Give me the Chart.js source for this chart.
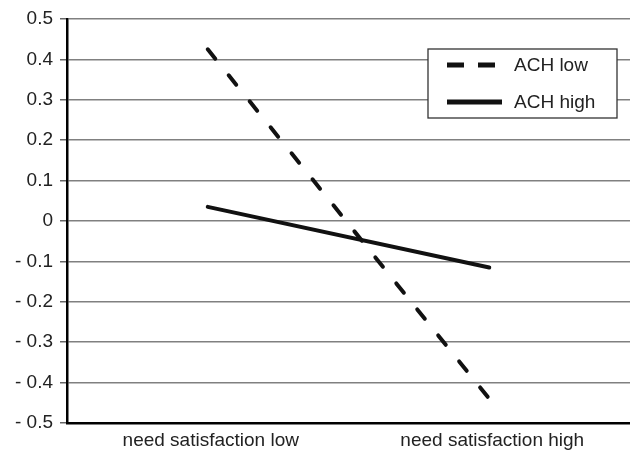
<!DOCTYPE html>
<html>
<head>
<meta charset="utf-8">
<script src="https://cdn.jsdelivr.net/npm/chart.js@4"></script>
<style>
  html, body { margin: 0; padding: 0; background: #fff; }
  #wrap { width: 630px; height: 450px; position: relative; }
</style>
</head>
<body>
<div id="wrap"><canvas id="chart"></canvas></div>
<script>
// data
const categories = ['need satisfaction low', 'need satisfaction high'];
const achLow = [0.425, -0.44];
const achHigh = [0.035, -0.115];
const seriesNames = ['ACH low', 'ACH high'];

const FONT = "Arial, 'Liberation Sans', sans-serif";

// y labels look like "- 0.3"
const fmtTick = (v) => {
  const r = Math.round(v * 10) / 10;
  if (r === 0) return '0';
  return r < 0 ? '- ' + Math.abs(r).toFixed(1) : r.toFixed(1);
};

// boxed legend sitting inside the plot, top right
const boxLegend = {
  id: 'boxLegend',
  afterDraw(chart) {
    const ctx = chart.ctx;
    const x = 428, y = 49, w = 189, h = 69;
    ctx.save();
    ctx.fillStyle = '#fff';
    ctx.fillRect(x, y, w, h);
    ctx.strokeStyle = '#333';
    ctx.lineWidth = 1.3;
    ctx.strokeRect(x, y, w, h);

    chart.data.datasets.forEach((ds, i) => {
      const cy = y + 16 + i * 37;
      ctx.beginPath();
      ctx.strokeStyle = ds.borderColor;
      ctx.lineWidth = 5;
      ctx.lineCap = 'butt';
      ctx.setLineDash(ds.borderDash && ds.borderDash.length ? [17, 14] : []);
      ctx.moveTo(447, cy);
      ctx.lineTo(502, cy);
      ctx.stroke();
      ctx.setLineDash([]);
      ctx.fillStyle = '#222';
      ctx.font = '19px ' + FONT;
      ctx.textAlign = 'left';
      ctx.textBaseline = 'middle';
      ctx.fillText(ds.label, 514, cy + 1);
    });
    ctx.restore();
  }
};

new Chart(document.getElementById('chart'), {
  type: 'line',
  data: {
    labels: categories,
    datasets: [
      {
        label: seriesNames[0],
        data: achLow,
        borderColor: '#111',
        borderWidth: 4,
        borderDash: [12, 21.4],
        borderCapStyle: 'round',
        pointRadius: 0,
        tension: 0
      },
      {
        label: seriesNames[1],
        data: achHigh,
        borderColor: '#111',
        borderWidth: 4,
        borderCapStyle: 'round',
        pointRadius: 0,
        tension: 0
      }
    ]
  },
  options: {
    responsive: true,
    maintainAspectRatio: false,
    animation: false,
    layout: { padding: { top: 19, right: -6, left: 0, bottom: 0 } },
    plugins: {
      legend: { display: false },
      tooltip: { enabled: false }
    },
    scales: {
      x: {
        offset: true,
        grid: { display: false, drawTicks: false },
        border: { display: true, color: '#000', width: 2.5 },
        ticks: {
          color: '#222',
          font: { family: FONT, size: 19 },
          padding: 6,
          labelOffset: 3,
          maxRotation: 0,
          autoSkip: false
        },
        afterFit(scale) { scale.height = 27; }
      },
      y: {
        min: -0.5,
        max: 0.5,
        grid: {
          color: '#808080',
          lineWidth: 1.5,
          drawTicks: true,
          tickLength: 7,
          tickColor: '#666'
        },
        border: { display: true, color: '#000', width: 2.5 },
        ticks: {
          stepSize: 0.1,
          color: '#222',
          font: { family: FONT, size: 19 },
          padding: 7,
          callback: (v) => fmtTick(v)
        },
        afterFit(scale) { scale.width = 67; }
      }
    }
  },
  plugins: [boxLegend]
});
</script>
</body>
</html>
